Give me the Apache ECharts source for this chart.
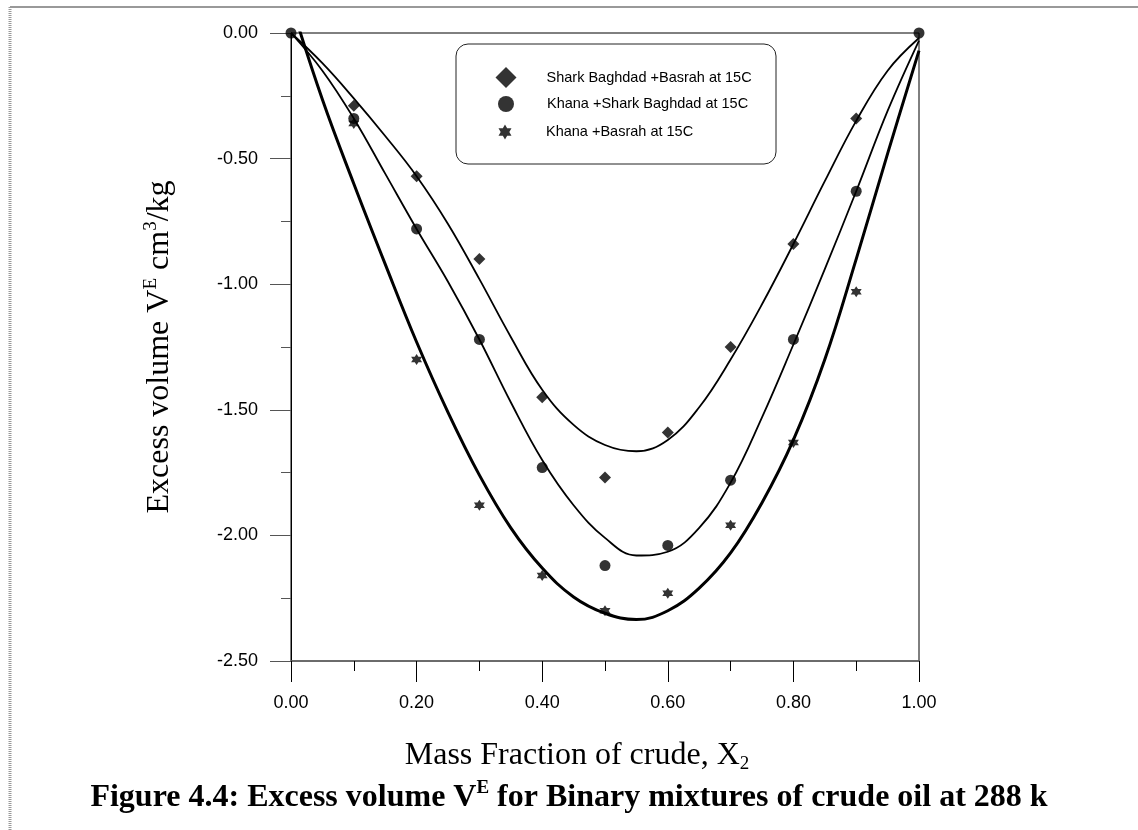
<!DOCTYPE html>
<html>
<head>
<meta charset="utf-8">
<script src="https://cdn.jsdelivr.net/npm/echarts@6/dist/echarts.min.js"></script>
<style>
  html, body {margin: 0; padding: 0; background: #fff;}
  #chart {width: 1138px; height: 830px;}
</style>
</head>
<body>
<div id="chart"></div>
<script>
// measured points
const pointX = [0.1, 0.2, 0.3, 0.4, 0.5, 0.6, 0.7, 0.8, 0.9];
const endX = [0, 0.1, 0.2, 0.3, 0.4, 0.5, 0.6, 0.7, 0.8, 0.9, 1.0];
const sharkBasrah = [-0.29, -0.57, -0.90, -1.45, -1.77, -1.59, -1.25, -0.84, -0.34];
const khanaShark = [0, -0.34, -0.78, -1.22, -1.73, -2.12, -2.04, -1.78, -1.22, -0.63, 0];
const khanaBasrah = [-0.36, -1.30, -1.88, -2.16, -2.30, -2.23, -1.96, -1.63, -1.03];

// fitted curves
const fitX = [0, 0.05, 0.1, 0.15, 0.2, 0.25, 0.3, 0.35, 0.4, 0.45, 0.5,
              0.55, 0.6, 0.65, 0.7, 0.75, 0.8, 0.85, 0.9, 0.95, 1.0];
const fitSharkBasrah = [0, -0.12, -0.26, -0.41, -0.57, -0.76, -0.98, -1.21, -1.42, -1.56, -1.64,
                        -1.665, -1.62, -1.49, -1.30, -1.08, -0.84, -0.59, -0.35, -0.15, -0.02];
const fitKhanaShark = [0, -0.15, -0.34, -0.56, -0.78, -0.99, -1.22, -1.47, -1.70, -1.88, -2.01,
                       -2.08, -2.065, -1.97, -1.79, -1.53, -1.24, -0.94, -0.63, -0.31, -0.03];
const fitKhanaBasrah = [0.12, -0.265, -0.60, -0.92, -1.23, -1.51, -1.76, -1.97, -2.13, -2.245, -2.31,
                        -2.335, -2.30, -2.21, -2.07, -1.87, -1.62, -1.30, -0.90, -0.48, -0.07];

const names = ['Shark Baghdad +Basrah at 15C', 'Khana +Shark Baghdad at 15C', 'Khana +Basrah at 15C'];
const starPath = 'path://M0,-10L2.89,-5L8.66,-5L5.77,0L8.66,5L2.89,5L0,10L-2.89,5L-8.66,5L-5.77,0L-8.66,-5L-2.89,-5Z';

const pair = (xs, ys) => xs.map((x, i) => [x, ys[i]]);
const sans = 'Liberation Sans, Arial, sans-serif';
const serif = 'Liberation Serif, Times New Roman, serif';

const chart = echarts.init(document.getElementById('chart'));

const legendRow = (name, top, size, pad) => ({
  data: [name],
  left: 506 - size / 2,
  top: top,
  padding: 0,
  itemWidth: size,
  itemHeight: size,
  selectedMode: false,
  textStyle: {fontFamily: sans, fontSize: 14.5, color: '#000', lineHeight: 18, padding: [0, 0, 0, pad]}
});

chart.setOption({
  animation: false,
  backgroundColor: '#fff',
  title: {
    text: '{b|Figure 4.4: Excess volume V}{s|E}{b| for Binary mixtures of crude oil at 288 k}',
    left: 'center',
    top: 774,
    textStyle: {
      rich: {
        b: {fontFamily: serif, fontWeight: 'bold', fontSize: 32, color: '#000', lineHeight: 38},
        s: {fontFamily: serif, fontWeight: 'bold', fontSize: 19, color: '#000', lineHeight: 20, verticalAlign: 'top'}
      }
    }
  },
  legend: [
    legendRow(names[0], 67, 21, 25),
    legendRow(names[1], 95, 16, 28),
    legendRow(names[2], 123, 15, 28.5)
  ],
  grid: {left: 291, top: 33, width: 628, height: 628, show: true, borderColor: '#000', borderWidth: 1},
  xAxis: {
    type: 'value', min: 0, max: 1, interval: 0.2,
    name: '{a|Mass Fraction of crude, X}{s|2}',
    nameLocation: 'middle',
    nameGap: 77,
    nameTextStyle: {
      padding: [0, 56, 0, 0],
      rich: {
        a: {fontFamily: serif, fontSize: 32, color: '#000', lineHeight: 36},
        s: {fontFamily: serif, fontSize: 19, color: '#000', lineHeight: 18, verticalAlign: 'bottom'}
      }
    },
    axisLine: {show: true, onZero: false, lineStyle: {color: '#666', width: 1.5}},
    axisTick: {show: true, inside: false, length: 21, lineStyle: {color: '#000'}},
    minorTick: {show: true, splitNumber: 2, length: 10, lineStyle: {color: '#000'}},
    splitLine: {show: false},
    axisLabel: {margin: 33, fontFamily: sans, fontSize: 18, color: '#000', formatter: v => v.toFixed(2)}
  },
  yAxis: {
    type: 'value', min: -2.5, max: 0, interval: 0.5,
    name: '{a|Excess volume V}{s|E}{a| cm}{s|3}{a|/kg}',
    nameLocation: 'middle',
    nameRotate: 90,
    nameGap: 113,
    nameTextStyle: {
      rich: {
        a: {fontFamily: serif, fontSize: 32, color: '#000', lineHeight: 36},
        s: {fontFamily: serif, fontSize: 19, color: '#000', lineHeight: 20, verticalAlign: 'top'}
      }
    },
    axisLine: {show: true, onZero: false, lineStyle: {color: '#000', width: 1}},
    axisTick: {show: true, inside: false, length: 21, lineStyle: {color: '#555'}},
    minorTick: {show: true, splitNumber: 2, length: 10, lineStyle: {color: '#555'}},
    splitLine: {show: false},
    axisLabel: {margin: 33, fontFamily: sans, fontSize: 18, color: '#000', formatter: v => v.toFixed(2)}
  },
  graphic: [
    {type: 'line', shape: {x1: 10, y1: 7, x2: 1138, y2: 7}, style: {stroke: '#999', lineWidth: 2}},
    {type: 'line', shape: {x1: 10, y1: 7, x2: 10, y2: 830}, style: {stroke: '#999', lineWidth: 3, lineDash: [1, 1]}},
    {type: 'rect', shape: {x: 456, y: 44, width: 320, height: 120, r: 12}, style: {fill: 'none', stroke: '#222', lineWidth: 1}, z: 1}
  ],
  series: [
    {
      name: names[0], type: 'scatter', symbol: 'diamond', symbolSize: 12,
      itemStyle: {color: '#000'}, data: pair(pointX, sharkBasrah), z: 5
    },
    {
      name: names[1], type: 'scatter', symbol: 'circle', symbolSize: 11,
      itemStyle: {color: '#000'}, data: pair(endX, khanaShark), z: 5
    },
    {
      name: names[2], type: 'scatter', symbol: starPath, symbolSize: 11,
      itemStyle: {color: '#000'}, data: pair(pointX, khanaBasrah), z: 5
    },
    {
      type: 'line', smooth: 0.4, showSymbol: false, silent: true, clip: true,
      lineStyle: {color: '#000', width: 1.8}, data: pair(fitX, fitSharkBasrah)
    },
    {
      type: 'line', smooth: 0.4, showSymbol: false, silent: true, clip: true,
      lineStyle: {color: '#000', width: 1.8}, data: pair(fitX, fitKhanaShark)
    },
    {
      type: 'line', smooth: 0.4, showSymbol: false, silent: true, clip: true,
      lineStyle: {color: '#000', width: 3}, data: pair(fitX, fitKhanaBasrah)
    }
  ]
});
</script>
</body>
</html>
